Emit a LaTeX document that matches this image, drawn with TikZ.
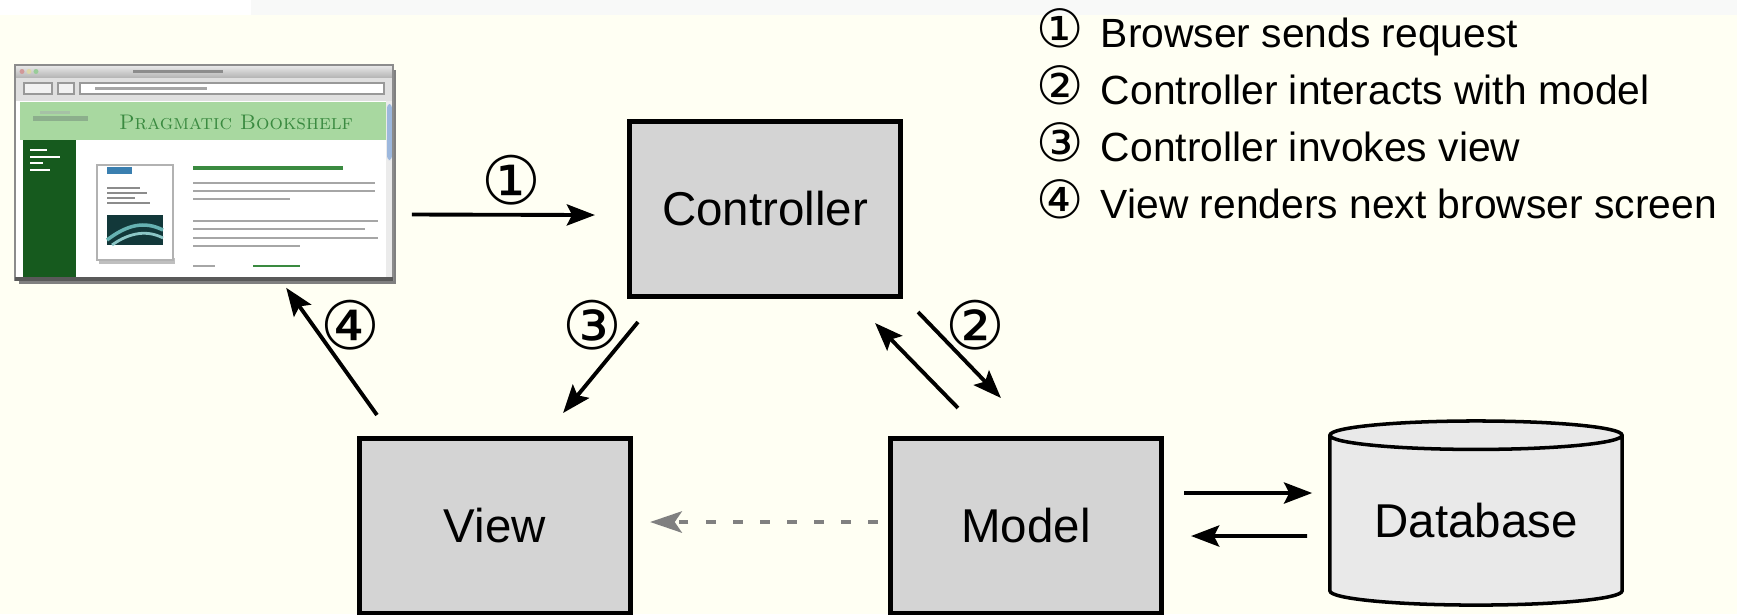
\documentclass[tikz,border=0pt]{standalone}
\usepackage{fontspec}
\newfontfamily\helv{Liberation Sans}
\newfontfamily\circfam{DejaVu Sans}
\usetikzlibrary{arrows.meta,calc,shapes.geometric}

\definecolor{paper}{HTML}{FFFFF3}
\definecolor{topgray}{HTML}{F8F9F8}
\definecolor{boxgray}{HTML}{D4D4D4}
\definecolor{dbgray}{HTML}{E9E9E9}
\definecolor{dashgray}{HTML}{808080}
\definecolor{bandgreen}{HTML}{A8D8A0}
\definecolor{sidegreen}{HTML}{165A1E}
\definecolor{bookgreen}{HTML}{3A8A40}
\definecolor{tagblue}{HTML}{3A7FB0}
\definecolor{tealdark}{HTML}{12383A}
\definecolor{scrollblue}{HTML}{9DB8DD}

\newcommand\legnum[1]{{\circfam\fontsize{15}{15}\selectfont #1}\hspace{4.8pt}}

\tikzset{
  mvc/.style={draw, line width=1.4pt, fill=boxgray, minimum width=2.71cm,
    minimum height=1.75cm, inner sep=0pt, font=\helv\fontsize{13.5}{16}\selectfont},
  arr/.style={line width=1.1pt, -{Stealth[length=8pt,width=6pt,inset=1.5pt]}},
  dasharr/.style={draw=dashgray, line width=1.4pt, dash pattern=on 2.8pt off 4.9pt,
    -{Stealth[length=9pt,width=6pt,inset=2pt]}},
  num/.style={inner sep=0pt, font=\circfam\fontsize{19}{19}\selectfont},
  legend/.style={anchor=base west, inner sep=0pt, font=\helv\fontsize{11.6}{13}\selectfont},
  txtline/.style={black!35, line width=0.7pt},
}

\begin{document}
\begin{tikzpicture}[x=0.01cm, y=-0.01cm]
\useasboundingbox (0,0) rectangle (1737,614);
\fill[paper] (0,0) rectangle (1737,614);
\fill[white] (0,0) rectangle (1737,15);
\fill[topgray] (251,0) rectangle (1737,15);

% browser screenshot
\node[inner sep=0pt, minimum width=3.78cm, minimum height=2.15cm] (browser) at (204,172.5) {};
\fill[black!50] (19,70) rectangle (396,284);
\fill[white] (15,65) rectangle (393,280);
\shade[top color=black!8, bottom color=black!30] (15,65) rectangle (393,78);
\fill[red!55!black!40] (22,71.5) circle[radius=0.025cm];
\fill[yellow!60!black!40] (29,71.5) circle[radius=0.025cm];
\fill[green!50!black!40] (36,71.5) circle[radius=0.025cm];
\fill[black!45] (133,70) rectangle (223,73);
\fill[black!12] (15,78) rectangle (393,101);
\draw[black!40, fill=black!5] (24,83) rectangle (52,94);
\draw[black!40, fill=black!5] (58,83) rectangle (74,94);
\draw[black!40, fill=white] (80,83) rectangle (384,94);
\fill[black!35] (95,87) rectangle (207,90);
\fill[bandgreen] (20,102) rectangle (386,140);
\fill[green!30!black!45] (33,116) rectangle (88,121);
\fill[green!30!black!35] (40,111) rectangle (70,114);
\node[inner sep=0pt, text=bookgreen, font=\fontsize{6}{7}\selectfont] (brand) at (236,122) {\textsc{Pragmatic Bookshelf}};
\fill[sidegreen] (23,140) rectangle (76,278);
\foreach \y/\w in {150/47, 157/60, 163/43, 170/50}
  \draw[white, line width=0.8pt] (30,\y) -- (\w,\y);
\fill[black!25] (99,258) rectangle (175,264);
\draw[black!30, fill=white] (97,165) rectangle (173,260);
\fill[tagblue] (107,167) rectangle (132,174);
\foreach \y/\w in {188/140, 193/147, 198/135, 203/150}
  \draw[black!45, line width=0.5pt] (107,\y) -- (\w,\y);
\fill[tealdark] (107,215) rectangle (163,245);
\draw[teal!60, line width=1pt] (107,240) .. controls (128,224) and (145,221) .. (163,230);
\draw[teal!45, line width=0.8pt] (112,245) .. controls (130,232) and (148,230) .. (163,238);
\draw[bookgreen, line width=1.3pt] (193,168) -- (343,168);
\foreach \y/\w in {183/375, 191/375, 199/290, 221/378, 229/365, 238/378, 246/300}
  \draw[txtline] (193,\y) -- (\w,\y);
\draw[txtline] (193,266) -- (215,266);
\draw[bookgreen, line width=0.7pt] (253,266) -- (300,266);
\fill[black!8] (386,101) rectangle (393,277);
\fill[scrollblue, rounded corners=1pt] (387,104) rectangle (392,160);
\draw[black!45, line width=0.6pt] (15,65) rectangle (393,280);
\fill[black!65] (15,277) rectangle (393,281);

\node[mvc] (ctrl) at (765,209) {Controller};
\node[mvc] (view) at (495,526) {View};
\node[mvc] (model) at (1026,526) {Model};
\node[shape=cylinder, shape border rotate=90, aspect=0.14, draw, line width=1pt,
  fill=dbgray, minimum width=2.92cm, minimum height=1.84cm, inner sep=0pt,
  font=\helv\fontsize{13.5}{16}\selectfont] (db) at (1476,521) {Database};

\draw[arr] ($(browser.east)+(18,42)$) -- ($(ctrl.west)+(-32,6)$);
\draw[arr] ($(ctrl.south west)+(11,23)$) -- ($(view.north east)+(-70,-23)$);
\draw[arr] ($(view.north west)+(20,-21)$) -- ($(browser.south west)+(272,7)$);
\draw[arr] ($(model.north west)+(70,-28)$) -- ($(ctrl.south east)+(-28,24)$);
\draw[arr] ($(ctrl.south east)+(15,13)$) -- ($(model.north west)+(113,-38)$);
\draw[dasharr] ($(model.west)+(-10,-4)$) -- ($(view.east)+(17,-4)$);
\draw[arr] ($(model.east)+(20,-33)$) -- ($(db.west)+(-16,-28)$);
\draw[arr] ($(db.west)+(-21,15)$) -- ($(model.east)+(27,10)$);

\node[num] (n1) at (511,180) {①};
\node[num] (n2) at (975,325) {②};
\node[num] (n3) at (592,325) {③};
\node[num] (n4) at (350,325) {④};

\node[legend] (leg1) at (1036,47) {\legnum{①}Browser sends request};
\node[legend] (leg2) at (1036,104) {\legnum{②}Controller interacts with model};
\node[legend] (leg3) at (1036,161) {\legnum{③}Controller invokes view};
\node[legend] (leg4) at (1036,218) {\legnum{④}View renders next browser screen};
\end{tikzpicture}
\end{document}
